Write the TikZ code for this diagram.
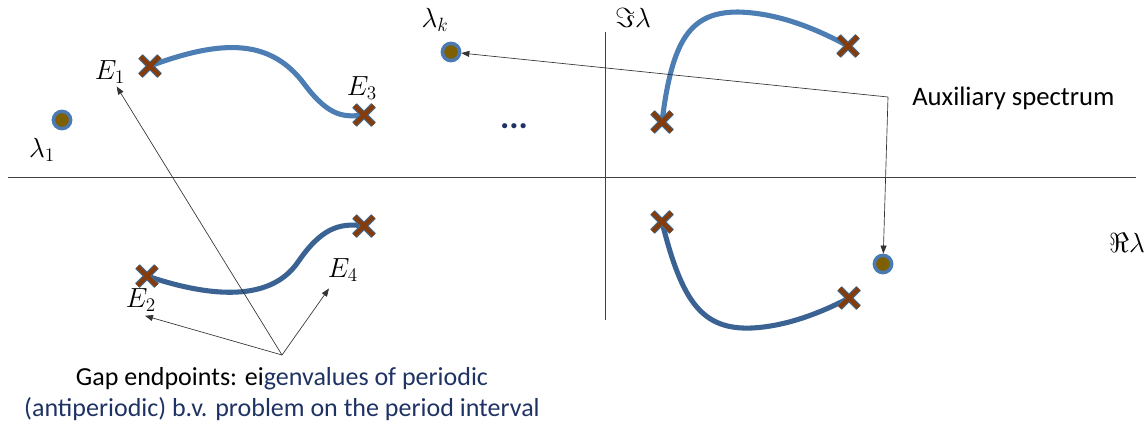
\documentclass[tikz,border=0pt]{standalone}
\usepackage{fontspec}
\newfontfamily\calibri{Carlito}
\usepackage{tikz}
\usetikzlibrary{arrows.meta}

\definecolor{crossbrown}{RGB}{132,60,12}
\definecolor{crossrim}{RGB}{65,113,156}
\definecolor{bandlight}{RGB}{76,126,180}
\definecolor{banddark}{RGB}{58,98,146}
\definecolor{dotrim}{RGB}{74,122,180}
\definecolor{dotcore}{RGB}{127,96,0}
\definecolor{navytext}{RGB}{31,50,100}

\begin{document}
\begin{tikzpicture}[x=0.75pt,y=-0.75pt]

\def\arm{9.5}
\def\lblsize{\fontsize{20}{24}\selectfont}

\tikzset{
    gapend/.style={
        minimum size=34pt,
        inner sep=0pt,
        path picture={
            \draw[crossrim,line width=5pt,shift={(path picture bounding box.center)}]
                (-\arm,-\arm) -- (\arm,\arm) (-\arm,\arm) -- (\arm,-\arm);
            \draw[crossbrown,line width=3.2pt,shift={(path picture bounding box.center)}]
                (-\arm,-\arm) -- (\arm,\arm) (-\arm,\arm) -- (\arm,-\arm);
        }
    },
    auxdot/.style={
        circle,
        fill=dotcore,
        draw=dotrim,
        line width=2.6pt,
        minimum size=13pt,
        inner sep=0pt
    },
    band/.style={line width=3.8pt,line cap=round},
    axisline/.style={draw=black!75,line width=0.6pt},
    pointer/.style={draw=black!80,line width=0.5pt,-{Triangle[length=6pt,width=4.5pt]}},
    mathlabel/.style={font=\lblsize,inner sep=1pt}
}

\useasboundingbox (0,0) rectangle (1147,425);

% Axes
\coordinate (reL) at (8,177);
\coordinate (reR) at (1136,177);
\coordinate (imT) at (605,32);
\coordinate (imB) at (605,320);
\draw[axisline] (reL) -- (reR);
\draw[axisline] (imT) -- (imB);
\node[mathlabel] (imlbl) at (633,18) {$\Im\lambda$};
\node[mathlabel] (relbl) at (1127,243) {$\Re\lambda$};

% Gap endpoints
\coordinate (e1) at (150,66);
\coordinate (e3) at (364,115);
\coordinate (e2) at (147,276);
\coordinate (e4) at (364,226);
\coordinate (r1) at (662,122);
\coordinate (r2) at (848,46);
\coordinate (r3) at (662,222);
\coordinate (r4) at (849,298);

% Gaps
\draw[band,bandlight] (e1) .. controls (225,38) and (272,40) .. (305,85)
    .. controls (330,118) and (345,117) .. (e3);
\draw[band,banddark] (e2) .. controls (200,294) and (268,306) .. (298,262)
    .. controls (320,230) and (338,222) .. (e4);
\draw[band,bandlight] (r1) .. controls (672,40) and (690,12) .. (738,12)
    .. controls (782,13) and (822,32) .. (r2);
\draw[band,banddark] (r3) .. controls (682,302) and (702,330) .. (752,328)
    .. controls (792,326) and (830,308) .. (r4);

\foreach \p in {e1,e2,e3,e4,r1,r2,r3,r4}{
    \node[gapend] (x\p) at (\p) {};
}

\node[mathlabel] (E1lbl) at (110,72) {$E_1$};
\node[mathlabel] (E2lbl) at (141,300) {$E_2$};
\node[mathlabel] (E3lbl) at (362,88) {$E_3$};
\node[mathlabel] (E4lbl) at (343,270) {$E_4$};

% Auxiliary spectrum
\node[auxdot] (lam1) at (62,120) {};
\node[auxdot] (lamk) at (451,52) {};
\node[auxdot] (lamr) at (883,264) {};
\node[mathlabel] (lam1lbl) at (42,150) {$\lambda_1$};
\node[mathlabel] (lamklbl) at (435,20) {$\lambda_k$};

\node[font=\calibri\fontsize{26}{26}\selectfont\bfseries,text=navytext] (dots) at (514,126) {...};

\node[font=\calibri\fontsize{20}{24}\selectfont,anchor=west,inner sep=0pt] (aux) at (912,98) {Auxiliary spectrum};
\coordinate (bend) at (888,97);
\draw[pointer] (bend) -- (lamk);
\draw[pointer] (bend) -- (lamr);

% Caption with pointers
\node[font=\calibri\fontsize{19.5}{23.5}\selectfont,align=center,inner sep=0pt] (gap) at (282,394)
    {Gap endpoints: ei\textcolor{navytext}{genvalues of periodic}\\
     \textcolor{navytext}{(antiperiodic) b.v. problem on the period interval}};
\coordinate (fan) at (282,355);
\draw[pointer] (fan) -- ([xshift=5pt,yshift=-1pt]E1lbl.south);
\draw[pointer] (fan) -- ([xshift=3pt,yshift=-2pt]E2lbl.south);
\draw[pointer] (fan) -- ([xshift=2pt,yshift=-4pt]E4lbl.south west);

\end{tikzpicture}
\end{document}
